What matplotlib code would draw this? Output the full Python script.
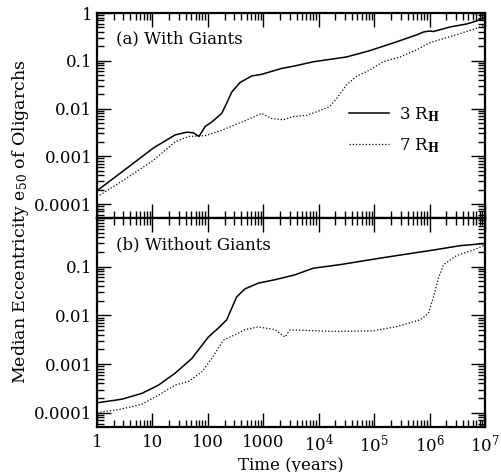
import numpy as np
import matplotlib
matplotlib.use("Agg")
import matplotlib.pyplot as plt
from matplotlib.ticker import LogLocator, FixedFormatter, FixedLocator

plt.rcParams['font.family'] = ['DejaVu Serif']
plt.rcParams['mathtext.fontset'] = 'dejavuserif'

# valores (log10 del tiempo en anos, excentricidad mediana)
a_solid_logt = [0.0, 0.57, 1.02, 1.41, 1.62, 1.74, 1.84, 1.95, 2.07, 2.25, 2.34, 2.43,
                2.58, 2.79, 2.97, 3.33, 3.57, 3.90, 4.50, 4.90, 5.41, 5.77, 5.89, 6.00,
                6.07, 6.37, 6.67, 6.85, 7.00]
a_solid_e = [1.9e-4, 6.0e-4, 1.5e-3, 2.8e-3, 3.2e-3, 3.1e-3, 2.6e-3, 4.2e-3, 5.2e-3,
             7.9e-3, 1.3e-2, 2.2e-2, 3.5e-2, 4.8e-2, 5.2e-2, 6.9e-2, 7.8e-2, 9.5e-2,
             0.12, 0.16, 0.25, 0.35, 0.40, 0.42, 0.41, 0.51, 0.59, 0.68, 0.82]

a_dot_logt = [0.0, 0.57, 1.02, 1.41, 1.65, 1.95, 2.25, 2.61, 2.97, 3.15, 3.36, 3.54,
              3.78, 3.96, 4.20, 4.32, 4.50, 4.68, 4.93, 5.16, 5.47, 5.77, 6.01, 6.37,
              6.67, 7.00]
a_dot_e = [1.4e-4, 3.7e-4, 8.3e-4, 2.0e-3, 2.6e-3, 2.7e-3, 3.5e-3, 5.2e-3, 7.9e-3,
           6.2e-3, 5.8e-3, 6.8e-3, 7.2e-3, 8.5e-3, 1.1e-2, 1.6e-2, 3.1e-2, 4.7e-2,
           6.5e-2, 9.5e-2, 0.12, 0.17, 0.24, 0.32, 0.41, 0.55]

b_solid_logt = [0.0, 0.45, 0.81, 1.11, 1.41, 1.71, 2.01, 2.19, 2.34, 2.43, 2.52, 2.67,
                2.91, 3.21, 3.57, 3.90, 4.38, 5.11, 5.83, 6.07, 6.55, 7.00]
b_solid_e = [1.6e-4, 1.9e-4, 2.5e-4, 3.7e-4, 6.5e-4, 1.3e-3, 3.6e-3, 5.5e-3, 8.1e-3,
             1.4e-2, 2.4e-2, 3.5e-2, 4.6e-2, 5.4e-2, 6.8e-2, 9.3e-2, 0.11, 0.15, 0.20,
             0.22, 0.27, 0.30]

b_dot_logt = [0.0, 0.45, 0.81, 1.11, 1.41, 1.65, 1.89, 2.07, 2.28, 2.49, 2.67, 2.91,
              3.21, 3.39, 3.48, 3.60, 4.20, 4.98, 5.41, 5.83, 5.98, 6.07, 6.16, 6.25,
              6.49, 6.79, 7.00]
b_dot_e = [1.0e-4, 1.2e-4, 1.5e-4, 2.3e-4, 3.7e-4, 4.4e-4, 6.9e-4, 1.3e-3, 3.1e-3,
           4.0e-3, 5.1e-3, 5.8e-3, 5.1e-3, 3.6e-3, 5.0e-3, 5.0e-3, 4.7e-3, 4.8e-3,
           5.9e-3, 8.1e-3, 1.1e-2, 2.4e-2, 5.8e-2, 0.11, 0.17, 0.22, 0.28]

x_ticks = [1, 10, 100, 1000, 1e4, 1e5, 1e6, 1e7]
x_labels = ['1', '10', '100', '1000', r'$10^4$', r'$10^5$', r'$10^6$', r'$10^7$']
y_ticks = [1e-4, 1e-3, 1e-2, 0.1, 1]
y_labels_a = ['0.0001', '0.001', '0.01', '0.1', '1']
y_labels_b = ['0.0001', '0.001', '0.01', '0.1', '']

fig = plt.figure(figsize=(5.01, 4.72), dpi=100)
left, width = 97 / 501, 388 / 501
ax_a = fig.add_axes([left, 1 - 218 / 472, width, 205 / 472])
ax_b = fig.add_axes([left, 1 - 427 / 472, width, 209 / 472])

for ax, yl in [(ax_a, y_labels_a), (ax_b, y_labels_b)]:
    ax.set_xscale('log')
    ax.set_yscale('log')
    ax.set_xlim(1, 1e7)
    ax.set_ylim(5.1e-5, 1)
    ax.xaxis.set_major_locator(FixedLocator(x_ticks))
    ax.xaxis.set_minor_locator(LogLocator(base=10, subs=np.arange(2, 10), numticks=20))
    ax.yaxis.set_major_locator(FixedLocator(y_ticks))
    ax.yaxis.set_minor_locator(LogLocator(base=10, subs=np.arange(2, 10), numticks=20))
    ax.yaxis.set_major_formatter(FixedFormatter(yl))
    ax.tick_params(which='both', direction='in', top=True, right=True, width=1)
    ax.tick_params(which='major', length=10, labelsize=12)
    ax.tick_params(which='minor', length=5)
    for s in ax.spines.values():
        s.set_linewidth(1.6)

ax_a.xaxis.set_major_formatter(FixedFormatter([''] * len(x_ticks)))
ax_b.xaxis.set_major_formatter(FixedFormatter(x_labels))
ax_b.tick_params(axis='x', pad=5)

ax_a.plot(10 ** np.array(a_solid_logt), a_solid_e, color='black', lw=1.1, label=r'3 R$_{\mathbf{H}}$')
ax_a.plot(10 ** np.array(a_dot_logt), a_dot_e, color='black', lw=0.9, ls=(0, (1, 1.6)),
          label=r'7 R$_{\mathbf{H}}$')
ax_b.plot(10 ** np.array(b_solid_logt), b_solid_e, color='black', lw=1.1)
ax_b.plot(10 ** np.array(b_dot_logt), b_dot_e, color='black', lw=0.9, ls=(0, (1, 1.6)))

ax_a.text(0.05, 0.873, '(a) With Giants', transform=ax_a.transAxes, fontsize=12, va='center')
ax_b.text(0.05, 0.873, '(b) Without Giants', transform=ax_b.transAxes, fontsize=12, va='center')

ax_a.legend(loc='center left', bbox_to_anchor=(0.649, 0.43), frameon=False, fontsize=12,
            handlelength=2.4, handletextpad=0.6, borderpad=0, borderaxespad=0, labelspacing=0.75)

fig.text(21 / 501, 1 - 222 / 472, r'Median Eccentricity e$_{50}$ of Oligarchs', rotation=90,
         fontsize=12.5, ha='center', va='center')
fig.text(291 / 501, 1 - 465 / 472, 'Time (years)', fontsize=12, ha='center', va='center')

fig.savefig('out.png', dpi=100)
